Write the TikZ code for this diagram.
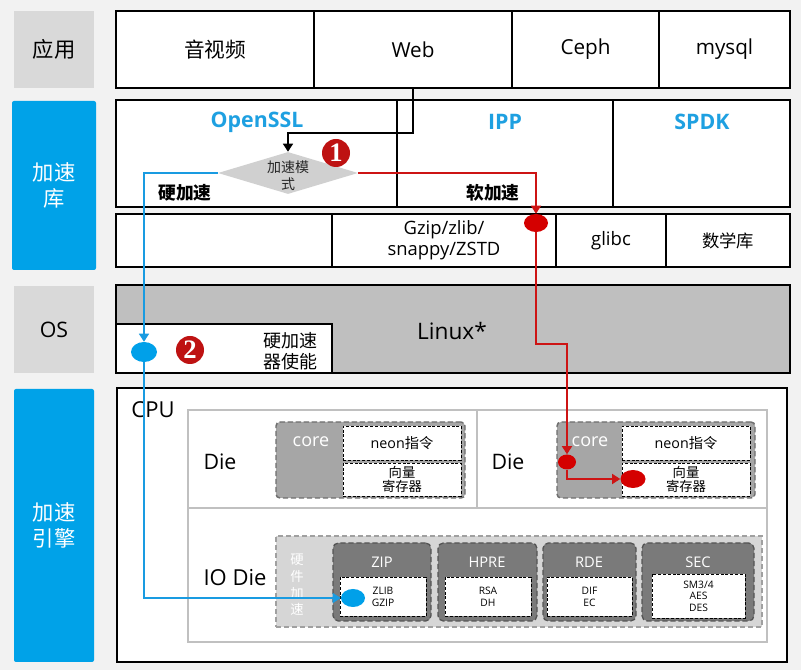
\documentclass[tikz,border=0pt]{standalone}
\usepackage{fontspec}
\setmainfont{Open Sans}
\newfontfamily\cjk{Noto Sans CJK SC}
\newfontfamily\badgefont{Liberation Serif}
\usetikzlibrary{shapes.geometric,arrows.meta}
\definecolor{bgc}{RGB}{242,242,242}
\definecolor{sgray}{RGB}{217,217,217}
\definecolor{sblue}{RGB}{0,162,232}
\definecolor{tblue}{RGB}{30,160,225}
\definecolor{linuxgray}{RGB}{191,191,191}
\definecolor{diagray}{RGB}{208,208,208}
\definecolor{lgray}{RGB}{192,192,192}
\definecolor{coregray}{RGB}{166,166,166}
\definecolor{coreborder}{RGB}{110,110,110}
\definecolor{hwgray}{RGB}{214,214,214}
\definecolor{hwborder}{RGB}{160,160,160}
\definecolor{modgray}{RGB}{122,122,122}
\definecolor{modborder}{RGB}{85,85,85}
\definecolor{badgered}{RGB}{190,18,18}
\definecolor{myred}{RGB}{205,20,20}
\definecolor{ellred}{RGB}{212,0,0}
\definecolor{lineblue}{RGB}{25,155,225}
\definecolor{ellblue}{RGB}{0,160,233}
\newcommand\fs[2]{\fontsize{#1}{#2}\selectfont}
\newcommand\bx[7]{\node[#6,minimum width={(#4-(#2))*0.75pt},minimum height={(#5-(#3))*0.75pt},inner sep=0pt,align=center] (#1) at ({(#2+#4)/2},{(#3+#5)/2}) {#7};}
\begin{document}
\begin{tikzpicture}[x=0.75pt,y=-0.75pt,
  cell/.style={draw=black,line width=1.3pt,fill=white},
  sidegray/.style={fill=sgray,text=black},
  sideblue/.style={fill=sblue,text=white,rounded corners=1.5pt},
  diebox/.style={draw=lgray,line width=1.1pt,fill=white},
  corebox/.style={fill=coregray,draw=coreborder,line width=1.1pt,dash pattern=on 4pt off 2pt,rounded corners=3pt},
  inbox/.style={fill=white,draw=black,line width=0.7pt,dash pattern=on 2.2pt off 1.4pt},
  hwbox/.style={fill=hwgray,draw=hwborder,line width=1pt,dash pattern=on 4pt off 2pt},
  modbox/.style={fill=modgray,draw=modborder,line width=1pt,dash pattern=on 4pt off 2pt,rounded corners=4pt},
  badge/.style={circle,fill=badgered,text=white,inner sep=0pt,minimum size=21pt,font=\badgefont\bfseries\fs{20}{20}},
  redell/.style={ellipse,fill=ellred,inner sep=0pt},
  blueell/.style={ellipse,fill=ellblue,inner sep=0pt},
  arr/.style={-{Triangle[width=7.5pt,length=6pt]}},
  blk/.style={draw=black,line width=1.1pt,arr},
  redc/.style={draw=myred,line width=1.1pt},
  bluec/.style={draw=lineblue,line width=1.1pt},
  txt/.style={inner sep=0pt,align=center}
]
\useasboundingbox (0,0) rectangle (801,670);
\fill[bgc] (0,0) rectangle (801,670);

% sidebar
\bx{sApp}{14}{11}{94}{88}{sidegray,font=\cjk\fs{16}{19.5}}{应用}
\bx{sLib}{12}{101}{96}{270}{sideblue,font=\cjk\fs{16}{20}}{加速\\库}
\bx{sOS}{14}{286}{94}{373}{sidegray,font=\fs{16}{19.5}}{OS}
\bx{sEng}{14}{389}{94}{662}{sideblue,font=\cjk\fs{16}{19}}{加速\\引擎}

% application row
\bx{av}{116}{11}{314}{88}{cell,font=\cjk\fs{15.5}{18}}{音视频}
\bx{web}{314}{11}{512}{88}{cell,font=\fs{15.5}{18}}{Web}
\bx{ceph}{512}{11}{659}{88}{cell,font=\fs{15.5}{18}}{Ceph}
\bx{mysql}{659}{11}{790}{88}{cell,font=\fs{15.5}{18}}{mysql}

% library rows
\bx{ossl}{116}{100}{397}{207}{cell}{}
\bx{ipp}{397}{100}{613}{207}{cell}{}
\bx{spdk}{613}{100}{790}{207}{cell}{}
\node[txt,text=tblue,font=\bfseries\fs{16}{18}] (tossl) at (257,122) {OpenSSL};
\node[txt,text=tblue,font=\bfseries\fs{16}{18}] (tipp) at (505,122) {IPP};
\node[txt,text=tblue,font=\bfseries\fs{16}{18}] (tspdk) at (702,122) {SPDK};
\node[txt,font=\cjk\bfseries\fs{13.3}{16}] (thard) at (185,193) {硬加速};
\node[txt,font=\cjk\bfseries\fs{13.3}{16}] (tsoft) at (493,193) {软加速};

\bx{c0}{116}{214}{332}{267}{cell}{}
\bx{gz}{332}{214}{556}{267}{cell,font=\fs{13.8}{15.75}}{Gzip/zlib/\\snappy/ZSTD}
\bx{glibc}{556}{214}{666}{267}{cell,font=\fs{13.9}{16}}{glibc}
\bx{math}{666}{214}{790}{267}{cell,font=\cjk\fs{13}{16}}{数学库}

% diamond
\node[diamond,fill=diagray,inner sep=0pt,minimum width={140*0.75pt},minimum height={42*0.75pt}] (mode) at (288,173) {};
\node[txt,font=\cjk\fs{10.5}{12.7},text=black!85] (tmode) at (288,176) {加速模\\式};
\node[badge] (b1) at (336,153) {1};

% OS row
\bx{linux}{116}{285}{790}{373}{cell,fill=linuxgray}{}
\node[txt,font=\fs{17}{20}] (tlinux) at (452,331) {Linux*};
\bx{hwen}{116}{324}{332}{373}{cell}{}
\node[txt,font=\cjk\fs{13.5}{15.75}] (thwen) at (290,351) {硬加速\\器使能};
\node[badge] (b2) at (190,350) {2};

% CPU
\bx{cpu}{117}{388}{787}{662}{cell}{}
\node[txt,font=\fs{16.5}{19}] (tcpu) at (153,410) {CPU};
\bx{die1}{188}{410}{477}{508}{diebox}{}
\bx{die2}{477}{410}{767}{508}{diebox}{}
\bx{iodie}{188}{508}{767}{642}{diebox}{}
\node[txt,font=\fs{16}{19}] (tdie1) at (220,462) {Die};
\node[txt,font=\fs{16}{19}] (tdie2) at (508,462) {Die};
\node[txt,font=\fs{16.5}{19}] (tiodie) at (235,578) {IO Die};

% core blocks
\bx{core1}{276}{422}{465}{498}{corebox}{}
\bx{neon1}{343}{426}{461}{460}{inbox,font=\fs{10.7}{12}}{neon{\cjk 指令}}
\bx{vec1}{343}{463}{461}{496}{inbox,font=\cjk\fs{10}{10.5}}{向量\\寄存器}
\node[txt,text=white,font=\fs{13.5}{15}] (tcore1) at (311,442) {core};
\bx{core2}{557}{422}{755}{498}{corebox}{}
\bx{neon2}{622}{426}{750}{460}{inbox,font=\fs{10.7}{12}}{neon{\cjk 指令}}
\bx{vec2}{622}{463}{750}{496}{inbox,font=\cjk\fs{10}{10.5}}{向量\\寄存器}
\node[txt,text=white,font=\fs{13.5}{15}] (tcore2) at (590,442) {core};

% hardware accel
\bx{hw}{276}{536}{762}{627}{hwbox}{}
\node[txt,text=white,font=\cjk\fs{10}{12.5}] (thw) at (297,585) {硬\\件\\加\\速};
\bx{zip}{333}{543}{431}{621}{modbox}{}
\bx{zipin}{340}{577}{426}{616}{inbox,font=\fs{7.7}{9}}{ZLIB\\GZIP}
\node[txt,text=white,font=\fs{11}{13}] (tzip) at (382,562) {ZIP};
\bx{hpre}{438}{543}{537}{621}{modbox}{}
\bx{hprein}{445}{577}{531}{616}{inbox,font=\fs{7.7}{9}}{RSA\\DH}
\node[txt,text=white,font=\fs{11}{13}] (thpre) at (487,562) {HPRE};
\bx{rde}{543}{543}{636}{621}{modbox}{}
\bx{rdein}{547}{577}{632}{616}{inbox,font=\fs{7.7}{9}}{DIF\\EC}
\node[txt,text=white,font=\fs{11}{13}] (trde) at (589,562) {RDE};
\bx{sec}{642}{543}{754}{621}{modbox}{}
\bx{secin}{652}{574}{745}{618}{inbox,font=\fs{7.7}{8.6}}{SM3/4\\AES\\DES}
\node[txt,text=white,font=\fs{11}{13}] (tsec) at (698,562) {SEC};

% markers
\node[redell,minimum width={24*0.75pt},minimum height={18*0.75pt}] (redA) at (536,223) {};
\node[redell,minimum width={18*0.75pt},minimum height={15*0.75pt}] (redB) at (567,462) {};
\node[redell,minimum width={25*0.75pt},minimum height={18*0.75pt}] (redC) at (633,479) {};
\node[blueell,minimum width={26*0.75pt},minimum height={20*0.75pt}] (blueA) at (144,352) {};
\node[blueell,minimum width={24*0.75pt},minimum height={18*0.75pt}] (blueB) at (353,598) {};
\coordinate (rbend) at (536,344);

% connectors
\draw[blk] (web.south) -- ++(0,44) -| (mode.north);
\draw[redc,arr] (mode.east) -| (redA.north);
\draw[redc,arr] (redA.south) -- (rbend) -| (redB.north);
\draw[redc,arr] (redB.south) |- (redC.west);
\draw[bluec,arr] (mode.west) -| (blueA.north);
\draw[bluec,arr] (blueA.south) |- (blueB.west);
\end{tikzpicture}
\end{document}
